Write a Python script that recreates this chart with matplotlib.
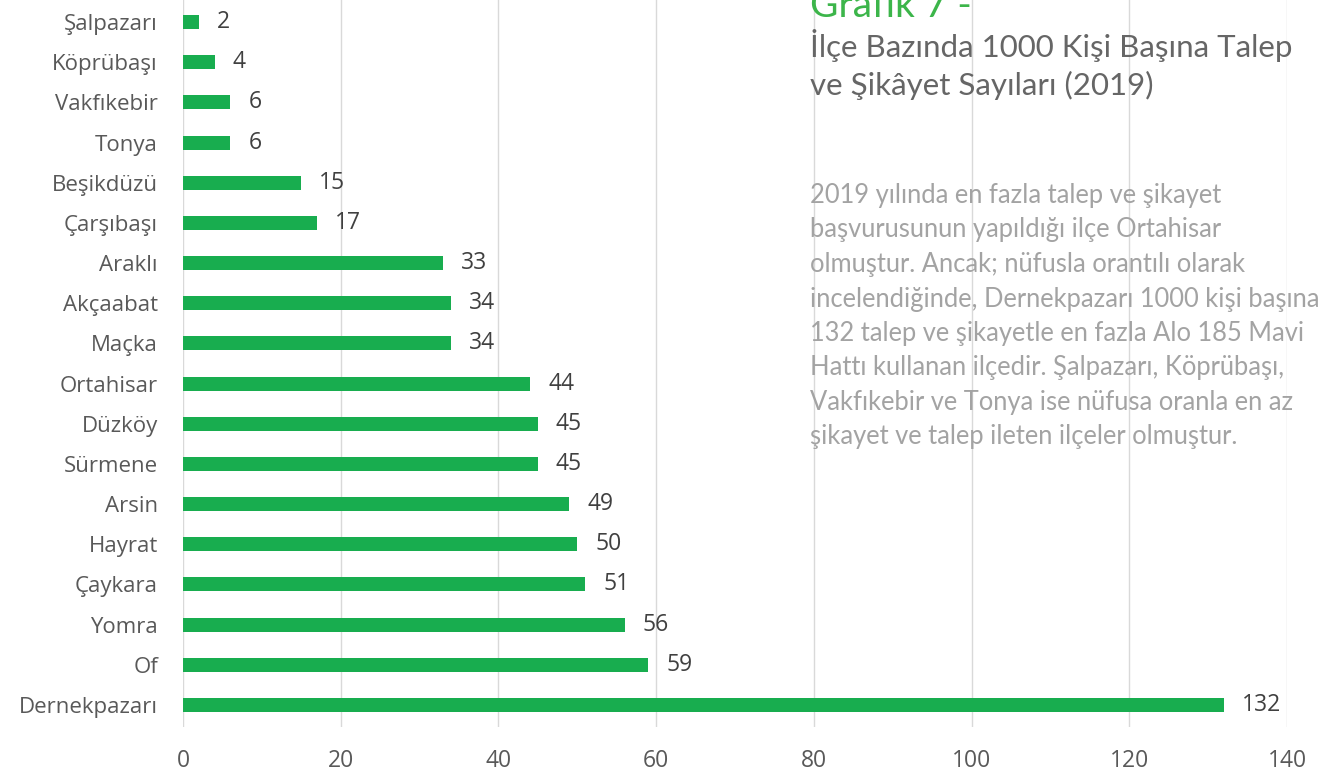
import matplotlib
matplotlib.use("Agg")
import matplotlib.pyplot as plt

districts = ["Şalpazarı", "Köprübaşı", "Vakfıkebir", "Tonya", "Beşikdüzü", "Çarşıbaşı",
             "Araklı", "Akçaabat", "Maçka", "Ortahisar", "Düzköy", "Sürmene", "Arsin",
             "Hayrat", "Çaykara", "Yomra", "Of", "Dernekpazarı"]
values = [2, 4, 6, 6, 15, 17, 33, 34, 34, 44, 45, 45, 49, 50, 51, 56, 59, 132]
xticks = [0, 20, 40, 60, 80, 100, 120, 140]

title_num = "Grafik 7 -"
title_lines = ["İlçe Bazında 1000 Kişi Başına Talep", "ve Şikâyet Sayıları (2019)"]
para_lines = [
    "2019 yılında en fazla talep ve şikayet",
    "başvurusunun yapıldığı ilçe Ortahisar",
    "olmuştur. Ancak; nüfusla orantılı olarak",
    "incelendiğinde, Dernekpazarı 1000 kişi başına",
    "132 talep ve şikayetle en fazla Alo 185 Mavi",
    "Hattı kullanan ilçedir. Şalpazarı, Köprübaşı,",
    "Vakfıkebir ve Tonya ise nüfusa oranla en az",
    "şikayet ve talep ileten ilçeler olmuştur.",
]

W, H = 1324, 778
fig = plt.figure(figsize=(W / 100, H / 100), dpi=100)
left, right = 183 / W, 1287 / W
bottom = 1 - 727 / H
ax = fig.add_axes([left, bottom, right - left, 1 - bottom])

green = "#18ad4f"
ypos = list(range(len(districts)))
ax.barh(ypos, values, height=0.35, color=green, zorder=3)
ax.set_ylim(len(districts) - 0.45, -0.55)
ax.set_xlim(0, 140)
ax.set_xticks(xticks)
ax.set_yticks(ypos)
ax.set_yticklabels(districts, fontfamily="Open Sans", fontsize=16, color="#595959")
ax.set_xticklabels([str(t) for t in xticks], fontfamily="Open Sans", fontsize=16.5, color="#595959")
ax.tick_params(axis="y", length=0, pad=18)
ax.tick_params(axis="x", length=0, pad=16)
for s in ax.spines.values():
    s.set_visible(False)
ax.grid(axis="x", color="#d9d9d9", linewidth=1, zorder=0)
ax.set_axisbelow(True)

for y, v in zip(ypos, values):
    ax.annotate(str(v), (v, y), xytext=(13, 0), textcoords="offset points",
                va="center", ha="left", fontfamily="Open Sans", fontsize=16.5, color="#404040")

# Right side text
def fy(px):
    return 1 - px / H

tx = 810 / W
fig.text(tx, fy(17), title_num, fontfamily="Lato", fontsize=28, color="#3cb54a", va="baseline")
for i, line in enumerate(title_lines):
    fig.text(tx, fy(57 + 38 * i), line, fontfamily="Lato", fontsize=22.5, color="#666666", va="baseline")
for i, line in enumerate(para_lines):
    fig.text(tx, fy(203 + 34.5 * i), line, fontfamily="Lato",
             fontsize=18.4, color="#a3a3a3", va="baseline")

fig.savefig("out.png", dpi=100)
